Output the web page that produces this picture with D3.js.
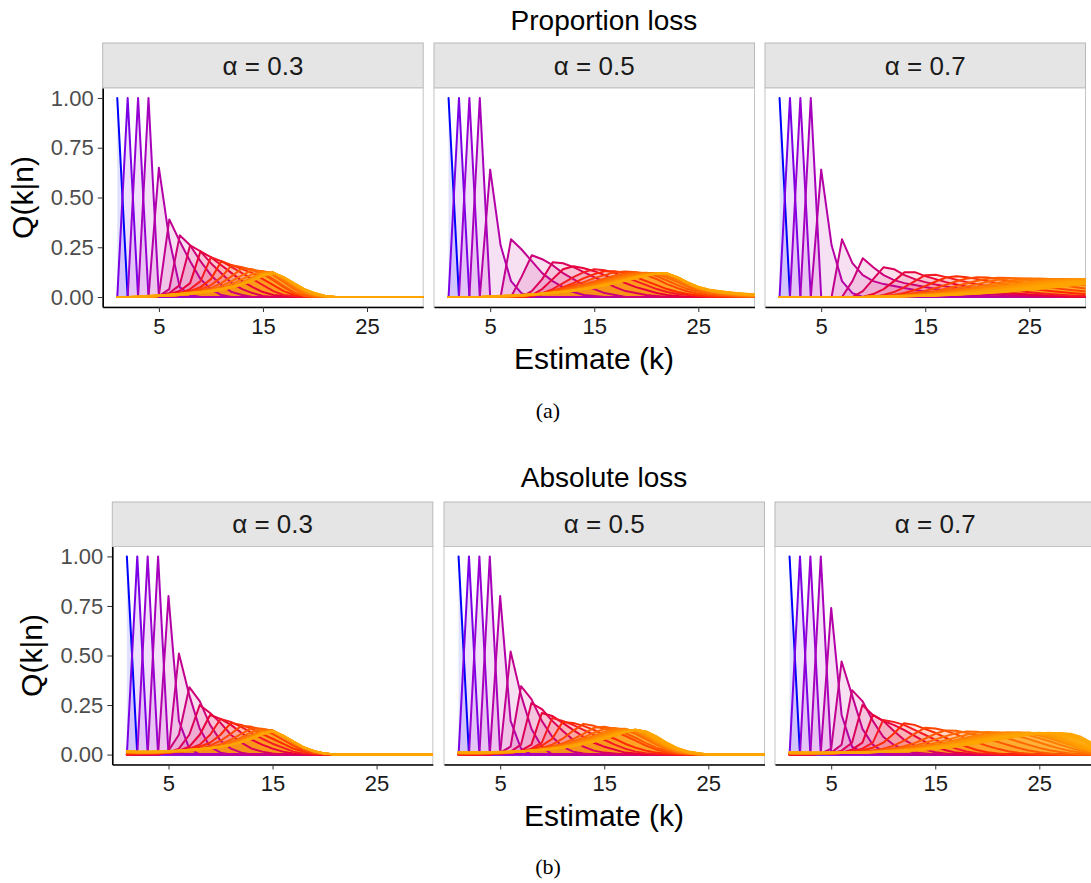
<!DOCTYPE html>
<html>
<head>
<meta charset="utf-8">
<script src="https://cdn.jsdelivr.net/npm/d3@7"></script>
<style>
  html, body { margin: 0; padding: 0; background: #ffffff; }
  svg { display: block; }
</style>
</head>
<body>
<svg id="fig" width="1091" height="883"></svg>
<script>
// Q(k|n) in percent. Each entry is one true number n (n = 1, 2, ...):
// [first estimate k with a listed value, Q at that k, Q at k+1, ...]; Q is 0 elsewhere.

const propLoss03 = [
  [1,100],[2,100],[3,100],[4,100],
  [5,65,29,5,1],
  [5,1,39,28,18,9,4,1],
  [5,0.5,4,31,26,18,11,6,2.5,1],
  [5,0.5,2,6,26,23,17,12,7,4,2,0.5],
  [5,0.5,1.5,3,7,23,20,16,12,8,5,2.5,1,0.5],
  [5,0.5,1,2,4,8,20,18,15,12,9,6,3,1,0.5],
  [5,0.5,1,2,3,5,9,18,16,14,12,9,6,3,1,0.5],
  [5,0.5,1,1.5,2.5,4,6,10,16,15,13.5,11.5,8.5,5,2,0.5],
  [5,0.5,1,1.5,2,3,4.5,7,10.5,14.5,14,12,9,5.5,2.5,0.5],
  [5,0.5,1,1.5,2,2.5,3.5,5.5,8,11,13.5,13,11,7.5,4,1.5,0.3],
  [5,0.5,0.5,1,1.5,2.5,3.5,4.5,6.5,9,11.5,13,12,8.5,5,2,0.5],
  [5,0.5,0.5,1,1.5,2,3,4,5.5,7.5,10,12.5,12.3,9,5.5,2.5,0.8],
  [5,0.5,0.6,1,1.5,2,3,4,5,7,9.5,12,12.3,9.3,5.8,2.7,1,0.2],
  [4,0.3,0.5,0.7,1,1.5,2,2.8,3.8,5,6.8,9,11.8,12.3,9.5,6.1,3,1.1,0.3],
  [4,0.3,0.5,0.8,1.1,1.6,2.1,2.8,3.7,4.9,6.6,8.8,11.6,12.3,9.6,6.3,3.2,1.3,0.3],
  [4,0.3,0.6,0.9,1.2,1.7,2.2,2.8,3.7,4.8,6.5,8.6,11.4,12.2,9.7,6.5,3.4,1.4,0.4],
  [4,0.4,0.7,1,1.3,1.8,2.3,2.9,3.7,4.8,6.4,8.5,11.3,12.2,9.8,6.6,3.5,1.5,0.4],
  [3,0.2,0.4,0.7,1,1.3,1.8,2.3,2.9,3.8,4.9,6.4,8.4,11.1,12.1,9.8,6.7,3.6,1.6,0.4],
  [3,0.2,0.5,0.8,1.1,1.4,1.9,2.4,3,3.9,5,6.4,8.3,11,12.1,9.9,6.8,3.8,1.8,0.5],
  [3,0.3,0.5,0.8,1.1,1.5,2,2.5,3.1,4,5.1,6.5,8.3,10.8,12,10,6.9,3.9,1.9,0.5],
  [3,0.3,0.6,0.9,1.2,1.6,2.1,2.6,3.3,4.2,5.3,6.7,8.4,10.7,12,10,7,4,2,0.5]
];

const propLoss05 = [
  [1,100],[2,100],[3,100],[4,100],
  [5,64,26,8,2],
  [6,0,29,24,18,12,8,5,2.5,1,0.5],
  [7,0,10,21,19,16,12,9,6,4,2,1],
  [8,0,3,9,17.5,17,15,12.5,10,7.5,5,3,2,1,0.5],
  [8,0,1,4,9,14,15.5,14.5,13,11,9,7,5,3.5,2,1,0.5],
  [8,0,0.5,2,4,7,10,12.5,14,13.5,12,10,8,6,4,2.5,1.5,1,0.5],
  [8,0,0.5,1.5,3,5,7,9.5,11.5,13,13,12,10,8,6,4,2.5,1.5,0.8,0.4,0.2],
  [7,0.3,0.5,1,2,3,4.5,6,7.5,9.5,11,12.5,12.8,12.5,11,9,6.5,4.5,2.8,1.6,0.9,0.5,0.3],
  [7,0.3,0.6,1,1.8,2.7,3.8,5,6.3,7.8,9.3,10.8,12,12.4,12,10.5,8.3,6,4,2.6,1.6,1,0.6,0.3],
  [6,0.2,0.4,0.7,1.1,1.7,2.4,3.3,4.4,5.6,7,8.5,10,11.2,12,12.2,11.5,9.8,7.5,5.2,3.4,2.2,1.4,0.9,0.5,0.3],
  [6,0.2,0.4,0.7,1.1,1.6,2.2,3,4,5.1,6.4,7.8,9.3,10.6,11.6,12.1,11.9,10.7,8.5,6,4,2.6,1.7,1.1,0.7,0.4,0.2],
  [6,0.2,0.4,0.7,1,1.5,2.1,2.9,3.8,4.8,6,7.3,8.7,10,11.1,11.8,12,11.4,9.5,6.8,4.5,3,2,1.3,0.9,0.5,0.3],
  [5,0.1,0.3,0.5,0.8,1.1,1.5,2,2.7,3.5,4.5,5.6,6.9,8.2,9.5,10.7,11.5,11.9,11.4,9.3,6.6,4.4,3,2.2,1.6,1.1,0.7,0.4],
  [5,0.1,0.3,0.5,0.8,1.1,1.5,2,2.6,3.4,4.3,5.4,6.6,7.9,9.2,10.4,11.3,11.8,11.5,9.5,6.7,4.5,3.1,2.3,1.7,1.2,0.8,0.5],
  [5,0.2,0.3,0.5,0.8,1.1,1.5,2,2.6,3.3,4.2,5.2,6.4,7.7,9,10.2,11.2,11.8,11.6,9.6,6.8,4.6,3.2,2.4,1.8,1.3,0.9,0.6],
  [5,0.2,0.4,0.6,0.8,1.1,1.5,2,2.6,3.3,4.1,5.1,6.2,7.5,8.8,10,11.1,11.8,11.7,9.7,6.9,4.7,3.3,2.5,1.9,1.4,1,0.7],
  [5,0.2,0.4,0.6,0.9,1.2,1.6,2,2.6,3.3,4.1,5,6.1,7.3,8.6,9.9,11,11.8,11.8,9.8,7,4.8,3.4,2.6,2,1.5,1.1,0.8],
  [5,0.3,0.5,0.7,0.9,1.2,1.6,2.1,2.6,3.3,4,4.9,6,7.2,8.5,9.8,10.9,11.8,11.9,9.9,7.1,4.9,3.5,2.7,2.1,1.6,1.2,0.9],
  [5,0.3,0.5,0.7,1,1.3,1.7,2.1,2.6,3.3,4,4.9,5.9,7.1,8.4,9.7,10.9,11.8,11.9,10,7.2,5,3.6,2.8,2.2,1.7,1.3,1],
  [5,0.3,0.5,0.8,1,1.3,1.7,2.1,2.7,3.3,4,4.8,5.8,7,8.3,9.6,10.8,11.7,11.9,10,7.3,5.1,3.7,2.9,2.3,1.8,1.4,1.1],
  [5,0.4,0.6,0.8,1.1,1.4,1.8,2.2,2.7,3.3,4,4.8,5.8,6.9,8.2,9.5,10.7,11.7,11.9,10,7.3,5.2,3.8,3,2.4,1.9,1.5,1.2]
];

const propLoss07 = [
  [1,100],[2,100],[3,100],[4,100],
  [5,64,26,8,2],
  [6,0,29,17,11,8,6.5,5.5,4.5,3.5,2.8,2.2,1.7,1.3,1,0.7,0.5,0.3],
  [7,0,8,19.5,15,11,8.5,7,6,5,4,3.3,2.7,2.2,1.8,1.4,1.1,0.8,0.6,0.4,0.2],
  [8,0,3,9,15,14,11,9,7.5,6.3,5.3,4.4,3.6,2.9,2.3,1.8,1.4,1.1,0.8,0.6,0.4,0.3],
  [9,0,1.5,4,8,12.5,12.5,10.5,9,7.5,6.3,5.2,4.3,3.5,2.8,2.2,1.7,1.3,1,0.7,0.5,0.3,0.2],
  [10,0,1,2.5,5,8,11,11.2,10,8.7,7.5,6.4,5.4,4.5,3.7,3,2.4,1.9,1.5,1.1,0.8,0.6,0.4],
  [10,0.2,0.5,1,2,3.5,5.5,7.8,9.8,10.5,10,9,8,7,6,5.1,4.3,3.6,3,2.5,2,1.6,1.3],
  [10,0.2,0.4,0.7,1.2,2,3.1,4.5,6.2,7.9,9.3,10,9.8,9.1,8.2,7.3,6.4,5.6,4.8,4.1,3.5,3,2.5],
  [10,0.2,0.4,0.6,1,1.5,2.2,3.1,4.2,5.5,6.9,8.2,9.2,9.7,9.6,9.1,8.4,7.6,6.8,6,5.3,4.6,4],
  [10,0.2,0.3,0.5,0.8,1.2,1.7,2.4,3.2,4.2,5.3,6.5,7.7,8.7,9.3,9.5,9.3,8.9,8.3,7.6,6.9,6.2,5.5],
  [10,0.2,0.3,0.5,0.7,1,1.4,1.9,2.5,3.3,4.2,5.2,6.2,7.2,8.1,8.8,9.2,9.3,9.1,8.7,8.2,7.6,7],
  [10,0.2,0.3,0.4,0.6,0.9,1.2,1.6,2.1,2.8,3.5,4.4,5.3,6.2,7.1,7.9,8.5,8.9,9.1,9.1,8.9,8.6,8.2],
  [10,0.2,0.3,0.4,0.6,0.8,1.1,1.4,1.9,2.4,3,3.7,4.5,5.3,6.1,6.9,7.6,8.2,8.6,8.9,9,8.9,8.7],
  [10,0.2,0.3,0.4,0.5,0.7,1,1.3,1.7,2.1,2.7,3.3,4,4.7,5.5,6.3,7,7.6,8.1,8.5,8.8,8.9,8.9],
  [10,0.2,0.3,0.4,0.5,0.7,0.9,1.2,1.5,1.9,2.4,2.9,3.5,4.2,4.9,5.6,6.3,7,7.6,8.1,8.5,8.8,9],
  [10,0.2,0.2,0.3,0.5,0.6,0.8,1.1,1.4,1.7,2.1,2.6,3.1,3.7,4.3,5,5.7,6.4,7,7.6,8.1,8.5,8.8],
  [10,0.2,0.2,0.3,0.4,0.6,0.8,1,1.3,1.6,1.9,2.3,2.8,3.3,3.9,4.5,5.1,5.8,6.4,7,7.6,8.1,8.5],
  [10,0.2,0.2,0.3,0.4,0.5,0.7,0.9,1.2,1.4,1.8,2.1,2.5,3,3.5,4.1,4.7,5.3,5.9,6.5,7.1,7.6,8.1],
  [10,0.1,0.2,0.3,0.4,0.5,0.7,0.9,1.1,1.3,1.6,1.9,2.3,2.7,3.2,3.7,4.3,4.9,5.5,6.1,6.6,7.2,7.7],
  [10,0.1,0.2,0.3,0.4,0.5,0.6,0.8,1,1.2,1.5,1.8,2.1,2.5,2.9,3.4,3.9,4.5,5.1,5.6,6.2,6.8,7.3],
  [10,0.1,0.2,0.3,0.3,0.4,0.6,0.7,0.9,1.1,1.4,1.7,2,2.3,2.7,3.1,3.6,4.1,4.7,5.2,5.8,6.3,6.9]
];

const absLoss03 = [
  [1,100],[2,100],[3,100],[4,100],
  [5,80,17,3],
  [5,1,51,30,13,4,1],
  [5,2,10,34,27,15,7,3,1],
  [5,1,3,10,25,21,16,10,6,3,1.5,0.5],
  [4,0.5,1,2,4,10,20,18,15,11,7.5,5,3,1.5,0.5],
  [3,0.5,0.5,1,1.5,3,5,10,18,16.5,14,11,8,5.5,3.5,1.5,0.5],
  [2,0.5,0.5,0.5,1,1.5,2.5,4,6,10,16,15,13,10.5,8,5.5,3,1.5,0.5],
  [1,0.8,0.6,0.6,0.7,1,1.5,2,3,4.5,7,10.5,14.5,14,12.5,10.5,7.5,4.5,2,0.7,0.2],
  [1,1,0.8,0.8,0.9,1.1,1.4,1.9,2.6,3.6,5.2,7.5,10.5,13.3,13,12,9.5,6,3,1.2,0.4],
  [1,1.1,0.9,0.9,1,1.2,1.5,1.9,2.5,3.3,4.5,6.3,8.7,11.5,12.8,12.2,9.4,6,3.1,1.3,0.4],
  [1,1.2,1,1,1.1,1.3,1.6,2,2.5,3.2,4.2,5.6,7.6,10,12,12.2,9.4,6.1,3.2,1.4,0.5],
  [1,1.2,1,1,1.1,1.3,1.6,2,2.5,3.1,4,5.3,7.1,9.4,11.5,12.1,9.5,6.2,3.3,1.5,0.5],
  [1,1.3,1.1,1.1,1.2,1.4,1.7,2,2.5,3.1,3.9,5.1,6.8,9,11.2,12,9.5,6.3,3.4,1.6,0.6],
  [1,1.3,1.1,1.1,1.2,1.4,1.7,2.1,2.5,3.1,3.9,5,6.6,8.7,11,12,9.5,6.4,3.5,1.6,0.6],
  [1,1.4,1.2,1.2,1.3,1.5,1.8,2.1,2.6,3.1,3.9,5,6.5,8.5,10.8,11.9,9.6,6.5,3.5,1.7,0.6],
  [1,1.4,1.2,1.2,1.3,1.5,1.8,2.2,2.6,3.2,3.9,4.9,6.4,8.4,10.7,11.9,9.6,6.5,3.6,1.7,0.6],
  [1,1.5,1.3,1.3,1.4,1.6,1.9,2.2,2.6,3.2,3.9,4.9,6.3,8.3,10.6,11.8,9.6,6.5,3.6,1.7,0.6],
  [1,1.5,1.3,1.3,1.4,1.6,1.9,2.3,2.7,3.2,3.9,4.9,6.3,8.2,10.5,11.8,9.6,6.6,3.6,1.7,0.6],
  [1,1.6,1.4,1.4,1.5,1.7,2,2.3,2.7,3.3,4,4.9,6.2,8.1,10.4,11.8,9.6,6.6,3.7,1.7,0.6],
  [1,1.6,1.4,1.4,1.5,1.7,2,2.4,2.8,3.3,4,4.9,6.2,8.1,10.3,11.7,9.6,6.6,3.7,1.7,0.6],
  [1,1.7,1.5,1.5,1.6,1.8,2.1,2.4,2.8,3.3,4,4.9,6.2,8,10.2,11.7,9.6,6.6,3.7,1.7,0.6]
];

const absLoss05 = [
  [1,100],[2,100],[3,100],[4,100],
  [5,80,17,3],
  [5,1,52,30,13,4],
  [5,1,4,34.5,28,17,9,4,1.5,0.5],
  [5,0.5,1.5,5,26,23,17,12,7.5,4,2,1,0.5],
  [5,0.5,1,2,5,21,19.5,16,12.5,9,6,4,2.5,1,0.5],
  [4,0.3,0.5,1,1.5,3,6,18.5,17,15,12.5,10,7.5,5,3,1.5,0.7,0.3],
  [3,0.3,0.4,0.6,1,1.5,2.5,4.5,8,16.5,16,14.5,12.5,10,8,5.5,3.5,2,1,0.4],
  [2,0.4,0.4,0.5,0.7,1,1.5,2.2,3.3,5,8,12,15.5,14.5,13,11.5,9.5,7,4.5,2.5,1.2,0.5],
  [1,0.6,0.5,0.5,0.6,0.8,1.1,1.5,2.1,2.9,4,5.6,7.8,10.5,13.5,14,13,11,8.5,5.8,3.5,1.8,0.8,0.3],
  [1,0.7,0.6,0.6,0.7,0.9,1.1,1.5,2,2.7,3.6,4.9,6.6,8.7,11,12.9,13.4,12.6,10.5,7.8,5,2.7,1.2,0.5],
  [1,0.8,0.7,0.7,0.8,0.9,1.2,1.5,2,2.6,3.4,4.5,5.9,7.6,9.6,11.6,12.9,13,11.5,8.6,5.5,3,1.4,0.6],
  [1,0.8,0.7,0.7,0.8,1,1.2,1.5,2,2.6,3.3,4.3,5.5,7,8.8,10.7,12.2,12.8,11.6,9,5.9,3.3,1.6,0.7],
  [1,0.9,0.8,0.8,0.9,1,1.2,1.5,2,2.5,3.2,4.1,5.2,6.6,8.2,10,11.6,12.6,12,9.4,6.3,3.6,1.8,0.8],
  [1,0.9,0.8,0.8,0.9,1,1.2,1.5,1.9,2.4,3.1,3.9,5,6.3,7.8,9.5,11.1,12.3,12.3,9.8,6.7,3.9,2,0.9,0.3],
  [1,1,0.9,0.9,1,1.1,1.3,1.5,1.9,2.4,3,3.8,4.8,6,7.4,9,10.6,12,12.5,10.3,7.2,4.3,2.3,1.1,0.4],
  [1,1,0.9,0.9,1,1.1,1.3,1.6,1.9,2.4,3,3.7,4.6,5.8,7.2,8.7,10.3,11.8,12.6,10.7,7.6,4.7,2.5,1.2,0.5],
  [1,1.1,1,1,1.1,1.2,1.4,1.6,1.9,2.4,2.9,3.6,4.5,5.6,7,8.5,10.1,11.6,12.6,11,8,5,2.7,1.3,0.5],
  [1,1.1,1,1,1.1,1.2,1.4,1.6,2,2.4,2.9,3.6,4.5,5.5,6.8,8.3,9.9,11.5,12.5,11.3,8.4,5.3,2.9,1.4,0.6],
  [1,1.2,1.1,1.1,1.2,1.3,1.5,1.7,2,2.4,2.9,3.6,4.4,5.4,6.7,8.2,9.8,11.4,12.5,11.5,8.8,5.6,3.1,1.5,0.7],
  [1,1.2,1.1,1.1,1.2,1.3,1.5,1.7,2,2.4,2.9,3.5,4.3,5.3,6.6,8.1,9.7,11.3,12.5,11.7,9.1,5.9,3.3,1.6,0.7],
  [1,1.3,1.2,1.2,1.3,1.4,1.6,1.8,2.1,2.5,2.9,3.5,4.3,5.3,6.5,8,9.6,11.2,12.4,11.8,9.3,6.1,3.4,1.7,0.8]
];

const absLoss07 = [
  [1,100],[2,100],[3,100],[4,100],
  [4,1,74,20,4,1],
  [4,0.5,3,47,30,13,5,1.5],
  [4,0.3,1,5,32.5,27,17,9,5,2.5,1,0.5],
  [4,0.3,0.7,2,6,25,20,17,12,7.5,4.5,2.5,1.2,0.5],
  [4,0.3,0.5,1,2.5,6,20,17,15,12.5,9.5,6.5,4,2.2,1,0.5],
  [3,0.2,0.3,0.5,1,1.8,3,6,17.5,16.5,15,12.5,10,7.5,5,3,1.6,0.7,0.3],
  [2,0.3,0.3,0.4,0.6,0.9,1.4,2.2,3.5,6,10.5,15.8,15,13,11,8.5,6,4,2.3,1.2,0.5],
  [1,0.5,0.4,0.4,0.5,0.6,0.8,1.1,1.5,2.1,3,4.5,7,10.5,13.5,13.2,12,10.2,8.2,6.2,4.4,2.9,1.7,0.9,0.4],
  [1,0.6,0.5,0.5,0.5,0.6,0.8,1,1.3,1.7,2.3,3.1,4.2,5.8,8,10.5,12.2,12,11,9.6,8,6.4,4.8,3.3,2.1,1.2,0.6],
  [1,0.6,0.5,0.5,0.6,0.7,0.8,1,1.2,1.5,2,2.6,3.4,4.5,5.9,7.6,9.3,10.8,11.6,11.5,10.8,9.6,8.1,6.5,4.9,3.4,2.2,1.3,0.6],
  [1,0.7,0.6,0.6,0.6,0.7,0.8,1,1.2,1.4,1.8,2.3,2.9,3.7,4.7,5.9,7.3,8.7,10,11,11.4,11.2,10.5,9.3,7.8,6.1,4.5,3,1.8,1,0.5],
  [1,0.7,0.6,0.6,0.7,0.7,0.8,1,1.1,1.4,1.7,2.1,2.6,3.2,4,5,6.1,7.4,8.6,9.8,10.7,11.2,11.2,10.7,9.7,8.3,6.7,5,3.4,2,1,0.4],
  [1,0.8,0.7,0.7,0.7,0.8,0.9,1,1.1,1.3,1.6,2,2.4,3,3.7,4.5,5.5,6.6,7.8,8.9,9.9,10.7,11.1,11.1,10.6,9.6,8.2,6.5,4.7,3,1.7,0.8],
  [1,0.8,0.7,0.7,0.7,0.8,0.9,1,1.1,1.3,1.5,1.9,2.3,2.8,3.4,4.2,5.1,6.1,7.2,8.3,9.3,10.2,10.8,11.1,11,10.4,9,7.2,5,3,1.5,0.6],
  [1,0.9,0.8,0.8,0.8,0.8,0.9,1,1.1,1.3,1.5,1.8,2.2,2.7,3.2,3.9,4.7,5.6,6.7,7.7,8.8,9.7,10.4,10.9,11,10.5,9.2,7.3,5.1,3.1,1.6,0.6],
  [1,0.9,0.8,0.8,0.8,0.9,0.9,1,1.1,1.3,1.5,1.8,2.1,2.5,3,3.7,4.4,5.3,6.2,7.2,8.3,9.2,10,10.6,11,10.8,10,8.4,6.1,3.8,2,0.8],
  [1,1,0.9,0.8,0.8,0.9,0.9,1,1.1,1.3,1.5,1.7,2,2.4,2.9,3.5,4.2,5,5.9,6.9,7.9,8.8,9.7,10.3,10.8,11,10.6,9.3,7.2,4.7,2.6,1.1],
  [1,1,0.9,0.9,0.9,0.9,1,1,1.1,1.3,1.4,1.7,2,2.3,2.8,3.3,4,4.8,5.6,6.5,7.5,8.4,9.3,10,10.6,10.9,10.8,10,8.3,5.8,3.3,1.5],
  [1,1.1,1,0.9,0.9,0.9,1,1,1.1,1.2,1.4,1.6,1.9,2.2,2.7,3.2,3.8,4.5,5.3,6.2,7.1,8.1,9,9.8,10.4,10.8,11,10.5,9.3,7,4.2,2],
  [1,1.1,1,1,1,1,1,1.1,1.1,1.2,1.4,1.6,1.8,2.2,2.6,3.1,3.6,4.3,5.1,5.9,6.8,7.8,8.7,9.5,10.2,10.7,10.9,10.8,10,8,5,2.5],
  [1,1.2,1.1,1,1,1,1,1.1,1.1,1.2,1.4,1.5,1.8,2.1,2.5,2.9,3.5,4.1,4.9,5.7,6.6,7.5,8.4,9.3,10,10.5,10.8,10.9,10.5,9,6,3]
];

const kTicks = [5, 15, 25];
const qTicks = [0, 0.25, 0.5, 0.75, 1];
const alphaLabels = ["α = 0.3", "α = 0.5", "α = 0.7"];
const lossTitles = ["Proportion loss", "Absolute loss"];
const subCaptions = ["(a)", "(b)"];
const panelSeries = [
  [propLoss03, propLoss05, propLoss07],
  [absLoss03, absLoss05, absLoss07]
];

// ---- geometry of the two stacked figures ----
const layout = {
  xDomain: [-0.4, 30.4],
  yDomain: [-0.05, 1.05],
  kMax: 31,
  panelWidth: 320.5,
  titleX: 604,
  captionX: 548,
  figs: [
    { titleY: 20, stripTop: 43, panelTop: 88, panelBottom: 307,
      lefts: [102.7, 434, 765], yTitleX: 22, xTitleY: 358, captionY: 410 },
    { titleY: 477, stripTop: 502, panelTop: 546.5, panelBottom: 764.5,
      lefts: [112.3, 444, 775], yTitleX: 31.5, xTitleY: 815, captionY: 866 }
  ]
};

const sans = '"Liberation Sans", Arial, Helvetica, sans-serif';
const serif = '"Liberation Serif", "DejaVu Serif", serif';

// line colour by true number n: blue -> purple -> magenta -> red -> orange
const colour = d3.scaleSqrt()
  .domain([1, 2, 3, 5, 7, 9, 11, 14, 18, 22])
  .range(["#0000ff", "#7a00e6", "#9600d2", "#b400a8", "#cc007a", "#e8003a", "#ff2a00", "#ff6a00", "#ff9000", "#ffa500"])
  .interpolate(d3.interpolateLab)
  .clamp(true);

// expand one [start, ...percent] record to points at k = 1..kMax
function curvePoints(rec) {
  const start = rec[0], vals = rec.slice(1);
  return d3.range(1, layout.kMax + 1).map(k => {
    const i = k - start;
    return { k, q: (i >= 0 && i < vals.length) ? vals[i] / 100 : 0 };
  });
}

const svg = d3.select("#fig");
svg.append("rect").attr("width", 1091).attr("height", 883).attr("fill", "#ffffff");
const defs = svg.append("defs");

layout.figs.forEach((fig, fi) => {
  const g = svg.append("g");
  const pw = layout.panelWidth;
  const midX = (fig.lefts[0] + fig.lefts[2] + pw) / 2;

  g.append("text")
    .attr("x", layout.titleX).attr("y", fig.titleY)
    .attr("text-anchor", "middle").attr("dominant-baseline", "central")
    .style("font-family", sans).style("font-size", "28px").attr("fill", "#000")
    .text(lossTitles[fi]);

  const y = d3.scaleLinear().domain(layout.yDomain).range([fig.panelBottom, fig.panelTop]);

  fig.lefts.forEach((left, pi) => {
    const x = d3.scaleLinear().domain(layout.xDomain).range([left, left + pw]);
    const pg = g.append("g");

    // strip
    pg.append("rect")
      .attr("x", left).attr("y", fig.stripTop)
      .attr("width", pw).attr("height", fig.panelTop - fig.stripTop)
      .attr("fill", "#e5e5e5").attr("stroke", "#b8b8b8").attr("stroke-width", 1);
    pg.append("text")
      .attr("x", left + pw / 2).attr("y", (fig.stripTop + fig.panelTop) / 2)
      .attr("text-anchor", "middle").attr("dominant-baseline", "central")
      .style("font-family", sans).style("font-size", "26px").attr("fill", "#1a1a1a")
      .text(alphaLabels[pi]);

    // panel
    pg.append("rect")
      .attr("x", left).attr("y", fig.panelTop)
      .attr("width", pw).attr("height", fig.panelBottom - fig.panelTop)
      .attr("fill", "#ffffff").attr("stroke", "#c4c4c4").attr("stroke-width", 1);

    const clipId = `clip-${fi}-${pi}`;
    defs.append("clipPath").attr("id", clipId)
      .append("rect").attr("x", left).attr("y", fig.panelTop)
      .attr("width", pw).attr("height", fig.panelBottom - fig.panelTop);

    const curves = panelSeries[fi][pi].map((rec, i) => ({ n: i + 1, pts: curvePoints(rec) }));
    const plot = pg.append("g").attr("clip-path", `url(#${clipId})`);

    const area = d3.area().x(d => x(d.k)).y0(y(0)).y1(d => y(d.q));
    const line = d3.line().x(d => x(d.k)).y(d => y(d.q));

    plot.append("g").selectAll("path").data(curves).join("path")
      .attr("d", d => area(d.pts))
      .attr("fill", d => colour(d.n)).attr("fill-opacity", 0.12)
      .attr("stroke", "none");

    plot.append("g").selectAll("path").data(curves).join("path")
      .attr("d", d => line(d.pts))
      .attr("fill", "none").attr("stroke", d => colour(d.n))
      .attr("stroke-width", 2).attr("stroke-linejoin", "round").attr("stroke-linecap", "round");

    // x axis
    const xAxis = pg.append("g")
      .attr("transform", `translate(0,${fig.panelBottom})`)
      .call(d3.axisBottom(x).tickValues(kTicks).tickSizeInner(5).tickSizeOuter(0).tickPadding(6));
    xAxis.select(".domain").attr("stroke", "#000").attr("stroke-width", 1.6);
    xAxis.selectAll(".tick line").attr("stroke", "#333").attr("stroke-width", 1);
    xAxis.selectAll(".tick text").style("font-size", "22px").attr("fill", "#1a1a1a")
      .style("font-family", sans);

    if (pi === 0) {
      const yAxis = pg.append("g")
        .attr("transform", `translate(${left},0)`)
        .call(d3.axisLeft(y).tickValues(qTicks).tickFormat(d3.format(".2f"))
          .tickSizeInner(5).tickSizeOuter(0).tickPadding(4));
      yAxis.select(".domain").attr("stroke", "#000").attr("stroke-width", 1.6);
      yAxis.selectAll(".tick line").attr("stroke", "#333").attr("stroke-width", 1);
      yAxis.selectAll(".tick text").style("font-size", "22px").attr("fill", "#4d4d4d")
        .style("font-family", sans);
    }
  });

  // axis titles
  g.append("text")
    .attr("x", midX).attr("y", fig.xTitleY)
    .attr("text-anchor", "middle").attr("dominant-baseline", "central")
    .style("font-family", sans).style("font-size", "30px").attr("fill", "#000")
    .text("Estimate (k)");
  const yMid = (fig.panelTop + fig.panelBottom) / 2;
  g.append("text")
    .attr("transform", `translate(${fig.yTitleX},${yMid}) rotate(-90)`)
    .attr("text-anchor", "middle").attr("dominant-baseline", "central")
    .style("font-family", sans).style("font-size", "30px").attr("fill", "#000")
    .text("Q(k|n)");

  // sub-figure caption
  g.append("text")
    .attr("x", layout.captionX).attr("y", fig.captionY)
    .attr("text-anchor", "middle").attr("dominant-baseline", "central")
    .style("font-family", serif).style("font-size", "22px").attr("fill", "#000")
    .text(subCaptions[fi]);
});
</script>
</body>
</html>
